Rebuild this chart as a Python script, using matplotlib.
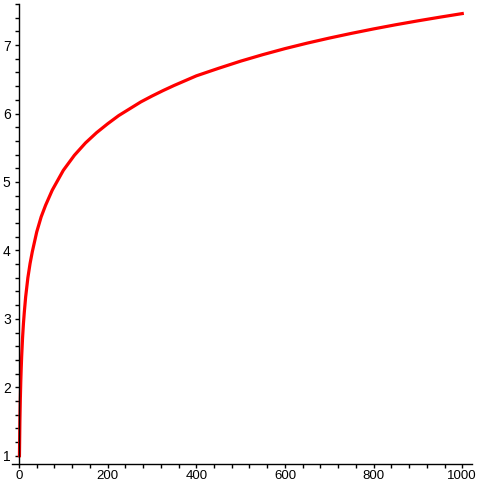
import numpy as np
import matplotlib.pyplot as plt
from matplotlib.ticker import MultipleLocator

# values
x_vals = [1, 2, 3, 4, 5, 6, 8, 10, 12, 15, 20, 25, 30, 40, 50, 60, 75, 100,
          125, 150, 175, 200, 225, 250, 275, 300, 325, 350, 375, 400, 450, 500,
          550, 600, 650, 700, 750, 800, 850, 900, 950, 1000]
y_vals = [1.0, 1.5, 1.83, 2.08, 2.28, 2.45, 2.72, 2.93, 3.10, 3.32, 3.60, 3.81,
          3.98, 4.27, 4.49, 4.66, 4.88, 5.17, 5.39, 5.57, 5.72, 5.85, 5.97,
          6.07, 6.17, 6.255, 6.335, 6.41, 6.48, 6.55, 6.66, 6.765, 6.86, 6.948,
          7.028, 7.102, 7.171, 7.236, 7.297, 7.354, 7.408, 7.46]

x_major = [0, 200, 400, 600, 800, 1000]
y_major = [1, 2, 3, 4, 5, 6, 7]

W = 483
fig = plt.figure(figsize=(W / 100, W / 100), dpi=100)
ax = fig.add_axes([12 / W, (W - 464) / W, (472 - 12) / W, (464 - 4) / W])

ax.plot(x_vals, y_vals, color='#ff0000', linewidth=2.3, solid_joinstyle='round')

ax.set_xlim(-15.8, 1022)
ax.set_ylim(1 - 8.3 / 68.6, 7.6)

for s in ['top', 'right']:
    ax.spines[s].set_visible(False)
ax.spines['left'].set_position(('data', 0))
ax.spines['left'].set_linewidth(1.0)
ax.spines['bottom'].set_linewidth(1.0)

ax.set_xticks(x_major)
ax.set_yticks(y_major)
ax.xaxis.set_minor_locator(MultipleLocator(40))
ax.yaxis.set_minor_locator(MultipleLocator(0.2))
ax.tick_params(axis='both', which='both', direction='out', length=3, width=1,
               labelsize=10)
ax.tick_params(axis='x', labelsize=9.5, pad=1)
ax.tick_params(axis='y', pad=3)
for lab in ax.get_xticklabels() + ax.get_yticklabels():
    lab.set_fontfamily('Liberation Sans')

fig.savefig('out.png', dpi=100)
